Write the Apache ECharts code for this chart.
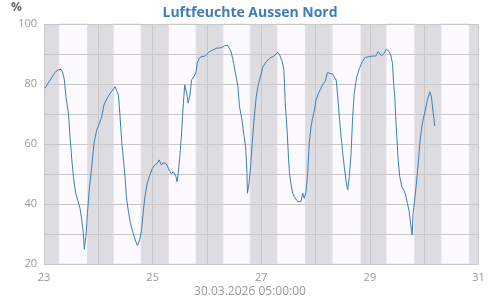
<!DOCTYPE html>
<html>
<head>
<meta charset="utf-8">
<script src="https://cdn.jsdelivr.net/npm/echarts@6/dist/echarts.min.js"></script>
<style>html,body{margin:0;padding:0;background:#fff}#c{width:500px;height:300px}</style>
</head>
<body>
<div id="c"></div>
<script>
// hours since 23.03.2026 00:00
const hours = [0.4,2.7,4.9,6.3,7.5,8.1,8.9,9.7,10.8,11.5,12.3,13.0,14.0,14.9,15.9,16.7,17.4,17.8,18.5,19.2,20.0,21.1,22.1,23.3,24.5,25.5,26.5,27.7,29.2,30.4,31.4,32.2,32.9,33.6,34.4,35.0,35.4,35.8,
36.4,37.2,38.2,39.4,40.6,41.3,42.3,43.1,43.8,44.6,45.6,46.8,47.9,49.0,50.1,50.9,51.9,52.7,54.1,55.3,56.3,57.1,57.8,58.3,58.8,59.3,60.0,60.7,61.2,61.8,62.2,62.7,63.3,63.7,64.5,65.2,66.2,67.1,67.7,68.6,69.6,71.1,71.7,
73.1,74.6,76.1,78.3,79.8,81.0,81.7,82.7,83.8,84.6,85.7,86.4,87.5,88.2,89.1,89.7,89.9,90.6,91.3,92.0,92.8,93.8,94.5,95.6,96.8,98.2,99.7,101.2,102.2,103.1,104.1,105.3,106.0,106.6,107.4,108.1,
108.4,109.1,109.9,110.6,111.4,112.1,113.6,114.3,115.0,115.8,116.5,117.2,118.0,118.7,119.5,120.2,121.4,122.4,123.4,124.3,124.9,125.3,126.1,127.5,128.3,129.1,129.8,130.5,131.3,132.0,132.7,133.5,134.2,134.9,135.7,136.4,137.1,138.2,139.4,140.6,142.0,143.8,
145.1,146.6,147.6,149.2,150.3,151.3,152.5,153.2,154.0,154.4,155.0,155.4,155.9,156.5,157.2,158.1,159.1,159.8,160.6,161.4,161.8,162.4,162.7,163.1,163.8,164.7,165.5,166.2,167.2,168.0,168.7,169.4,170.5,171.2,172.0,172.7];
const humidity = [78.6,81.3,83.9,84.7,84.9,84.1,81.9,75.8,70.2,62.4,54.7,49.1,43.6,41.3,38.6,34.7,30.2,24.9,29.1,36.9,44.7,52.4,60.2,64.7,66.9,69.1,73,75,76.9,78,79.1,79.1,76.3,69.1,60.2,55.8,52.4,49.1,
42.4,38,33.6,30.2,27.4,26.1,28,31.3,36.9,42.4,46.9,49.7,51.9,53,53.6,54.7,53,53.8,53.3,51.3,50,50.8,51.1,49.1,47.4,50.2,55.8,62.4,69.1,75.8,79.7,78,75.8,73.6,76.3,81.3,82.4,83.6,86.9,88.6,89.1,89.3,89.7,
90.8,91.3,91.9,92.1,92.7,93,92.4,90.8,86.9,83.6,79.1,72.4,68,63.6,59.1,50.2,43.6,46.9,52.4,60.2,68,75.8,79.1,82.4,85.8,87.4,88.6,89.1,89.7,90.6,89.7,87.4,84.7,73.6,64.7,54.7,
50.8,46.9,43.6,42.4,42.4,40.8,40.8,43.6,41.9,44.1,50.2,60.2,65.8,68.6,71.3,74.7,77.1,78.6,80.2,80.8,83,83.8,83.3,83.3,83.8,81.3,75.8,69.1,62.4,56.9,52.4,47.4,44.7,49.1,56.9,69.1,76.9,82.4,85.2,87.4,88.9,89.1,
89.3,89.3,90.8,89.4,90.2,91.6,90.8,89.7,86.9,81.3,75.8,69.1,62.4,54.7,49.1,45.8,44.4,43,40.2,37.4,34.7,31.3,29.7,36.9,41.3,48,54.7,61.3,66.9,69.7,71.9,74.7,77.4,75.8,70.2,66];
// daylight periods (hours since start)
const sunrise = [6.6,30.7,55.0,79.1,103.0,127.3,151.2,175.5];
const sunset  = [19.2,42.9,67.2,91.1,115.5,140.1,163.8,188.0];
const firstDay = 23;
const yTicks = [20,40,60,80,100];
const titleText = 'Luftfeuchte Aussen Nord';
const unitText = '%';
const stampText = '30.03.2026 05:00:00';

const data = hours.map((h,i)=>[h, humidity[i]]);
const nightColor = '#dddde1';
const dayColor = '#fcf9ff';
const areas = [];
let prev = 0;
for (let i=0;i<sunrise.length;i++){
  areas.push([{xAxis:prev, itemStyle:{color:nightColor}},{xAxis:sunrise[i]}]);
  areas.push([{xAxis:sunrise[i], itemStyle:{color:dayColor, borderColor:'#ebe0ee', borderWidth:1}},{xAxis:sunset[i]}]);
  prev = sunset[i];
}
areas.push([{xAxis:prev, itemStyle:{color:nightColor}},{xAxis:192}]);

const chart = echarts.init(document.getElementById('c'));
chart.setOption({
  animation:false,
  textStyle:{fontFamily:'Open Sans'},
  title:{text:titleText, left:'center', top:1, textStyle:{fontFamily:'Open Sans', fontSize:14, fontWeight:'bold', color:'#3f7cb8'}},
  graphic:[
    {type:'text', left:11, top:2, style:{text:unitText, font:'bold 12px "Open Sans"', fill:'#666'}},
    {type:'text', left:'center', top:286, style:{text:stampText, font:'12px "Open Sans"', fill:'#999'}}
  ],
  grid:{left:44, right:21.5, top:24, bottom:36},
  xAxis:{type:'value', min:0, max:192, interval:24, z:5,
    axisLine:{show:true, lineStyle:{color:'#c8c8c8'}}, axisTick:{show:false},
    splitLine:{show:true, lineStyle:{color:'#c8c8c8', width:1}},
    axisLabel:{color:'#999', fontSize:11, margin:8, fontFamily:'Open Sans',
      formatter:v=>{const d=Math.round(v/24); return d%2===0 ? String(firstDay+d) : '';}}},
  yAxis:{type:'value', min:20, max:100, interval:10, z:5,
    axisLine:{show:false}, axisTick:{show:false},
    splitLine:{show:true, lineStyle:{color:'#c8c8c8', width:1}},
    axisLabel:{color:'#999', fontSize:11, margin:7, fontFamily:'Open Sans',
      formatter:v=> yTicks.indexOf(v)>=0 ? String(v) : ''}},
  series:[
    {type:'line', z:1, data:data, showSymbol:false, silent:true, lineStyle:{width:0, opacity:0},
      markArea:{silent:true, data:areas}},
    {type:'line', z:10, data:data, showSymbol:false, lineStyle:{width:1, color:'#3a7fbb'}, itemStyle:{color:'#3a7fbb'}}
  ]
});
</script>
</body>
</html>
